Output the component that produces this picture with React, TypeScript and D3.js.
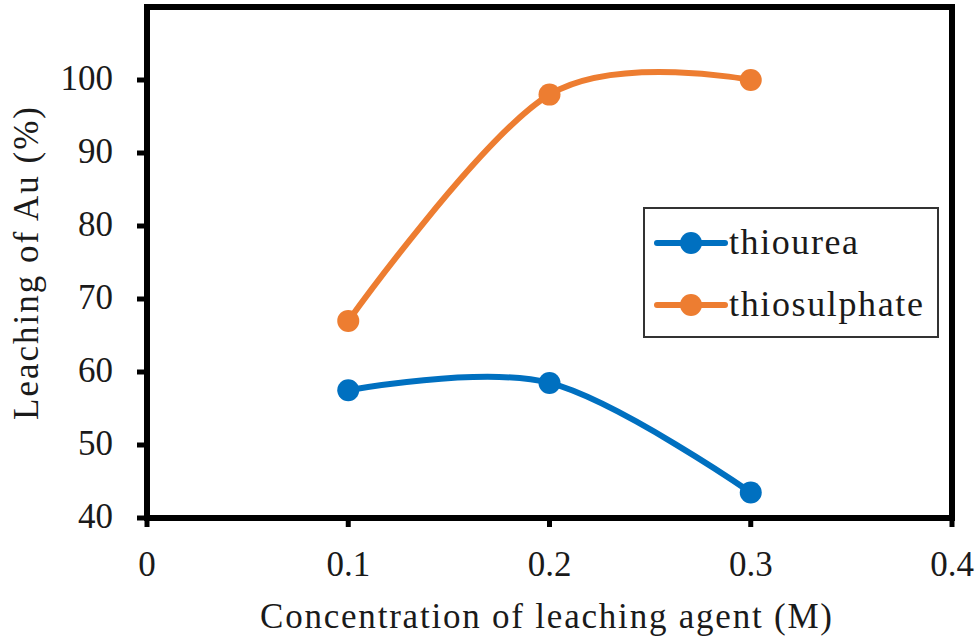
import { useEffect, useRef } from 'react'
import * as d3 from 'd3'

const W = 980
const H = 643

// concentration of leaching agent (M)
const concentrations = [0.1, 0.2, 0.3]
const thiourea = [57.5, 58.5, 43.5]
const thiosulphate = [67, 98, 100]
const seriesNames = ['thiourea', 'thiosulphate']
const seriesColors = ['#0070C0', '#ED7D31']
const xTicks = [0, 0.1, 0.2, 0.3, 0.4]
const yTicks = [40, 50, 60, 70, 80, 90, 100]

const FONT = 'Liberation Serif, DejaVu Serif, serif'
const TEXT = '#1a1a1a'

export default function App() {
  const svgRef = useRef<SVGSVGElement>(null)

  useEffect(() => {
    const svg = d3.select(svgRef.current)
    svg.selectAll('*').remove()

    const m = { left: 147, right: 952, top: 7, bottom: 518 }
    const x = d3.scaleLinear().domain([0, 0.4]).range([m.left, m.right])
    const y = d3.scaleLinear().domain([40, 110]).range([m.bottom, m.top])

    svg.append('rect').attr('width', W).attr('height', H).attr('fill', '#fff')

    // ticks
    svg.append('g')
      .selectAll('line')
      .data(yTicks)
      .join('line')
      .attr('x1', m.left - 10)
      .attr('x2', m.left)
      .attr('y1', (d) => y(d))
      .attr('y2', (d) => y(d))
      .attr('stroke', '#000')
      .attr('stroke-width', 5)

    svg.append('g')
      .selectAll('line')
      .data(xTicks)
      .join('line')
      .attr('x1', (d) => x(d))
      .attr('x2', (d) => x(d))
      .attr('y1', m.bottom)
      .attr('y2', m.bottom + 9)
      .attr('stroke', '#000')
      .attr('stroke-width', 5)

    // frame
    svg.append('rect')
      .attr('x', m.left)
      .attr('y', m.top)
      .attr('width', m.right - m.left)
      .attr('height', m.bottom - m.top)
      .attr('fill', 'none')
      .attr('stroke', '#000')
      .attr('stroke-width', 6)

    const txt = svg.append('g').style('font-family', FONT).attr('fill', TEXT)

    // tick labels
    txt.append('g')
      .selectAll('text')
      .data(yTicks)
      .join('text')
      .attr('x', 113)
      .attr('y', (d) => y(d) - 2)
      .attr('text-anchor', 'end')
      .attr('dominant-baseline', 'central')
      .attr('font-size', 35)
      .text((d) => d)

    txt.append('g')
      .selectAll('text')
      .data(xTicks)
      .join('text')
      .attr('x', (d) => x(d))
      .attr('y', 576)
      .attr('text-anchor', 'middle')
      .attr('font-size', 35)
      .text((d) => d)

    // axis titles
    txt.append('text')
      .attr('x', 260)
      .attr('y', 628)
      .attr('textLength', 572)
      .attr('lengthAdjust', 'spacing')
      .attr('font-size', 35)
      .text('Concentration of leaching agent (M)')

    txt.append('text')
      .attr('transform', `translate(38,420) rotate(-90)`)
      .attr('textLength', 313)
      .attr('lengthAdjust', 'spacing')
      .attr('font-size', 35)
      .text('Leaching of Au (%)')

    // series
    const line = d3.line<[number, number]>()
      .x((d) => x(d[0]))
      .y((d) => y(d[1]))
      .curve(d3.curveCardinal.tension(0))

    const series = [thiourea, thiosulphate]
    series.forEach((vals, i) => {
      const pts: [number, number][] = concentrations.map((c, j) => [c, vals[j]])
      svg.append('path')
        .attr('d', line(pts) ?? '')
        .attr('fill', 'none')
        .attr('stroke', seriesColors[i])
        .attr('stroke-width', 6)
      svg.append('g')
        .selectAll('circle')
        .data(pts)
        .join('circle')
        .attr('cx', (d) => x(d[0]))
        .attr('cy', (d) => y(d[1]))
        .attr('r', 11)
        .attr('fill', seriesColors[i])
    })

    // legend
    const legendLen = [129, 194]
    const lg = svg.append('g')
    lg.append('rect')
      .attr('x', 644)
      .attr('y', 208)
      .attr('width', 294)
      .attr('height', 129)
      .attr('fill', '#fff')
      .attr('stroke', '#333')
      .attr('stroke-width', 2)
    seriesNames.forEach((name, i) => {
      const cy = 243 + i * 62
      lg.append('line')
        .attr('x1', 657)
        .attr('x2', 725)
        .attr('y1', cy)
        .attr('y2', cy)
        .attr('stroke', seriesColors[i])
        .attr('stroke-width', 6)
        .attr('stroke-linecap', 'round')
      lg.append('circle')
        .attr('cx', 691)
        .attr('cy', cy)
        .attr('r', 11)
        .attr('fill', seriesColors[i])
      lg.append('text')
        .attr('x', 729)
        .attr('y', cy + 11)
        .attr('textLength', legendLen[i])
        .attr('lengthAdjust', 'spacing')
        .style('font-family', FONT)
        .attr('font-size', 36)
        .attr('fill', TEXT)
        .text(name)
    })
  }, [])

  return (
    <svg
      ref={svgRef}
      width={W}
      height={H}
      style={{ display: 'block', position: 'absolute', left: 0, top: 0 }}
    />
  )
}
